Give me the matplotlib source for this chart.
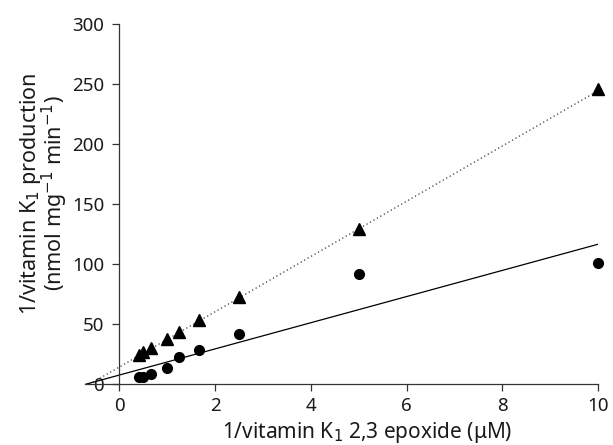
import numpy as np
import matplotlib as mpl
mpl.use("Agg")
import matplotlib.pyplot as plt

plt.rcParams['font.family'] = ['Noto Sans', 'DejaVu Sans']

# 1/[epoxide] (1/uM)
inv_s = [0.4, 0.5, 0.667, 1.0, 1.25, 1.667, 2.5, 5.0, 10.0]
# 1/v, triangles (dotted fit) and circles (solid fit)
inv_v_tri = [24.2, 26.9, 30.6, 38.0, 43.9, 53.6, 72.5, 129.4, 246.0]
inv_v_circ = [6.4, 6.4, 8.9, 13.9, 22.8, 28.3, 42.0, 91.7, 101.3]

# fitted lines, end points
fit_tri_x = [-0.63, 10.0]
fit_tri_y = [0.0, 244.6]
fit_circ_x = [-0.71, 10.0]
fit_circ_y = [0.0, 116.7]

fig = plt.figure(figsize=(6.13, 4.45), dpi=100)
ax = fig.add_axes([0.1387, 0.1364, 0.8368, 0.809])

ax.plot(fit_tri_x, fit_tri_y, color='#333333', lw=0.9, ls=(0, (1, 2.2)))
ax.plot(fit_circ_x, fit_circ_y, color='black', lw=0.9)
ax.plot(inv_s, inv_v_tri, '^', color='black', ms=8, clip_on=False, zorder=3)
ax.plot(inv_s, inv_v_circ, 'o', color='black', ms=7, clip_on=False, zorder=3)

ax.set_xlim(-0.72, 10)
ax.set_ylim(0, 300)
ax.set_xticks([0, 2, 4, 6, 8, 10])
ax.set_yticks([0, 50, 100, 150, 200, 250, 300])

ax.spines['left'].set_position(('data', 0))
ax.spines['right'].set_visible(False)
ax.spines['top'].set_visible(False)
for s in ('left', 'bottom'):
    ax.spines[s].set_color('#333333')
    ax.spines[s].set_linewidth(0.9)

ax.tick_params(axis='both', direction='out', length=5, width=0.9,
               color='#333333', labelsize=13.5, labelcolor='#1a1a1a')
ax.tick_params(axis='y', pad=6)
ax.tick_params(axis='x', pad=4)

ax.set_xlabel('1/vitamin K$_1$ 2,3 epoxide (\u03bcM)', fontsize=15, color='#1a1a1a')
ax.xaxis.set_label_coords(0.551, -0.1)
ax.set_ylabel('1/vitamin K$_1$ production\n(nmol mg$^{-1}$ min$^{-1}$)',
              fontsize=15.5, color='#1a1a1a', linespacing=0.85)
ax.yaxis.set_label_coords(-0.03, 0.53)

fig.savefig('out.png', dpi=100)
